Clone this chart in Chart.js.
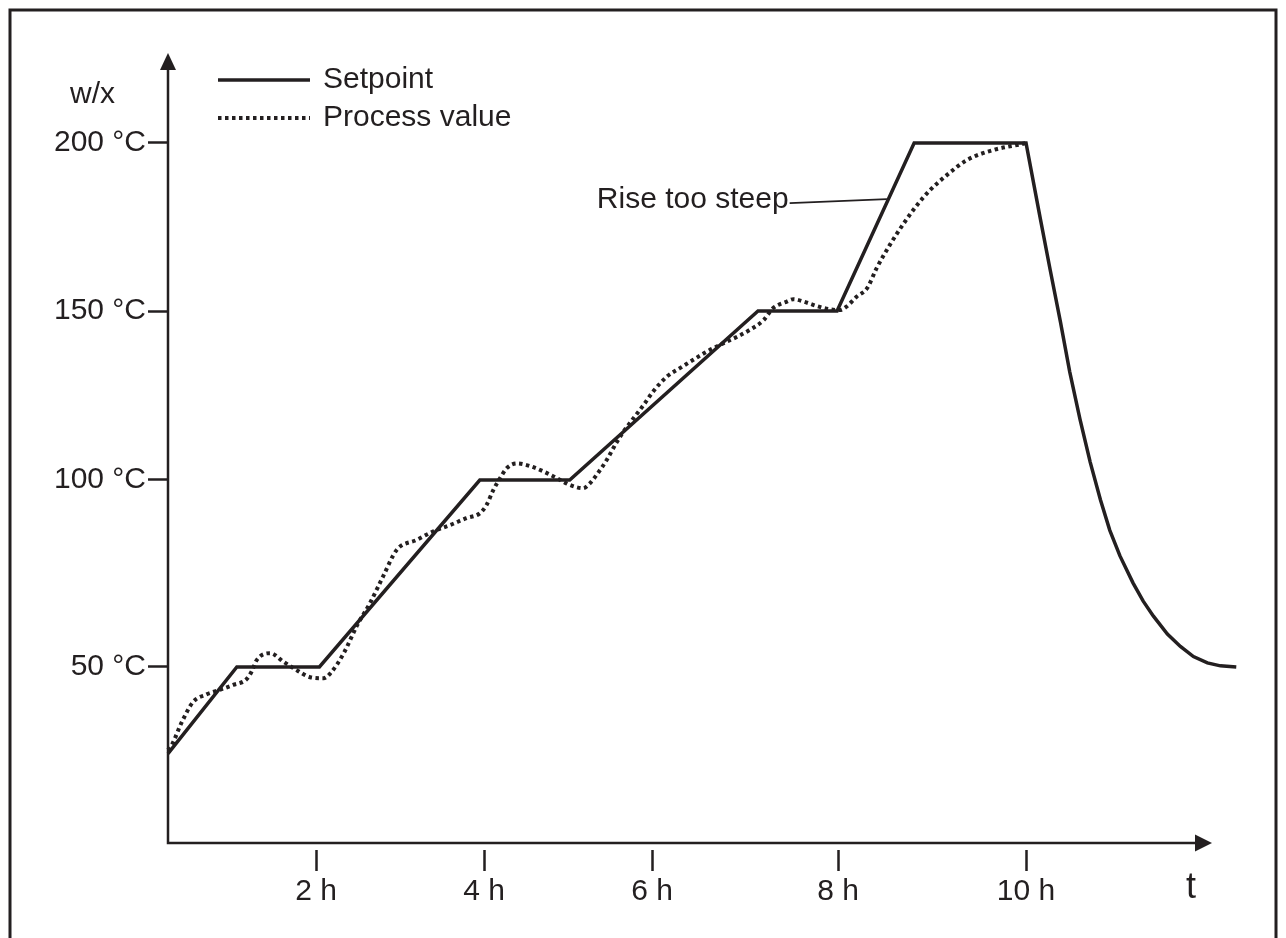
<!DOCTYPE html>
<html>
<head>
<meta charset="utf-8">
<title>Setpoint and process value</title>
<script src="https://cdn.jsdelivr.net/npm/chart.js@4.4.1/dist/chart.umd.min.js"></script>
<style>
  html, body { margin: 0; padding: 0; background: #fff; overflow: hidden; }
  #wrap { position: relative; width: 1286px; height: 938px; }
</style>
</head>
<body>
<div id="wrap"><canvas id="rampChart"></canvas></div>
<script>
// time in hours, temperature in °C
const setpointHours = [0, 0.93, 2.04, 3.95, 5.02, 7.14, 7.99, 8.81, 10, 10.15, 10.26, 10.37, 10.47, 10.58, 10.69, 10.8, 10.9, 11.01, 11.15, 11.26, 11.37, 11.52, 11.66, 11.8, 11.95, 12.09, 12.26];
const setpointTemps = [25.4, 50, 50, 100, 100, 150, 150, 200, 200, 178, 162.2, 146.8, 132, 118, 105.3, 94.7, 86.6, 79.7, 72.5, 67.6, 63.6, 58.8, 55.5, 52.8, 51.1, 50.3, 50];

const processHours = [0, 0.05, 0.19, 0.34, 0.52, 0.7, 0.88, 1.06, 1.13, 1.2, 1.38, 1.56, 1.74, 1.92, 2.09, 2.17, 2.33, 2.49, 2.64, 2.8, 2.96, 3.2, 3.39, 3.6, 3.79, 3.95, 4.03, 4.11, 4.19, 4.27, 4.39, 4.55, 4.71, 4.87, 5.02, 5.18, 5.26, 5.34, 5.46, 5.58, 5.66, 5.78, 5.9, 6.01, 6.16, 6.3, 6.44, 6.59, 6.77, 6.91, 7.05, 7.2, 7.3, 7.45, 7.52, 7.63, 7.77, 7.91, 8.02, 8.09, 8.2, 8.31, 8.41, 8.55, 8.7, 8.84, 8.98, 9.16, 9.37, 9.65, 9.94, 10];
const processTemps = [26.4, 27.8, 34.5, 40.1, 42.2, 43.5, 44.9, 46.5, 48.7, 51.9, 53.7, 51.4, 49.1, 47.1, 46.8, 48.2, 53.7, 61.2, 67, 74.3, 81.3, 84, 86.2, 88, 89.8, 91.1, 93.3, 97.3, 100.5, 103.5, 104.9, 104.1, 102.5, 100.5, 98.7, 97.8, 99.1, 101.5, 105.9, 111.2, 114.3, 118.3, 122.2, 126.1, 130.6, 133.1, 135.5, 138, 140.5, 142.3, 144.4, 147.3, 150.8, 152.8, 153.5, 152.8, 151.5, 150.5, 150.3, 151.3, 154.3, 156.8, 162.7, 169.6, 176.1, 181.5, 186, 190.5, 194.9, 197.9, 199.6, 200];

const seriesNames = ['Setpoint', 'Process value'];
const xTickValues = [2, 4, 6, 8, 10];
const xTickLabels = ['2 h', '4 h', '6 h', '8 h', '10 h'];
const yTickValues = [50, 100, 150, 200];
const yTickLabels = ['50 °C', '100 °C', '150 °C', '200 °C'];

const ink = '#231f20';
const fontFamily = "'Liberation Sans', Arial, Helvetica, sans-serif";
const fontSize = 30;

// the sketch is hand drawn and its ticks are not evenly spaced,
// so each axis maps a value to a fraction of its length piece by piece
const axisWarp = {
    x: { v: [0, 2, 4, 6, 8, 10, 12, 12.3], d: [0, 0.1381, 0.2948, 0.4515, 0.625, 0.8004, 0.9739, 1] },
    y: { v: [0, 50, 100, 150, 200, 225], d: [0, 0.2228, 0.4595, 0.6734, 0.8861, 1] }
};

function interp(val, from, to) {
    let i = 1;
    while (i < from.length - 1 && val > from[i]) i++;
    const t = (val - from[i - 1]) / (from[i] - from[i - 1]);
    return to[i - 1] + t * (to[i] - to[i - 1]);
}

class WarpedScale extends Chart.LinearScale {
    getPixelForValue(value) {
        if (value === null || isNaN(value)) return NaN;
        const w = axisWarp[this.id];
        return this.getPixelForDecimal(interp(value, w.v, w.d));
    }
    getValueForPixel(pixel) {
        const w = axisWarp[this.id];
        return interp(this.getDecimalForPixel(pixel), w.d, w.v);
    }
}
WarpedScale.id = 'warped';
WarpedScale.defaults = Chart.LinearScale.defaults;
Chart.register(WarpedScale);

// frame, arrowed axes, legend and the callout
const sketchPlugin = {
    id: 'sketch',
    beforeDraw(chart) {
        const ctx = chart.ctx;
        ctx.save();
        ctx.strokeStyle = ink;
        ctx.lineWidth = 3;
        ctx.strokeRect(10, 10, chart.width - 20, chart.height + 40);
        ctx.restore();
    },
    beforeDatasetsDraw(chart) {
        const ctx = chart.ctx;
        const { left, bottom, top } = chart.chartArea;
        const xEnd = chart.scales.x.getPixelForValue(12);
        ctx.save();
        ctx.strokeStyle = ink;
        ctx.fillStyle = ink;
        ctx.lineWidth = 2.5;
        ctx.beginPath();
        ctx.moveTo(left, top + 16);
        ctx.lineTo(left, bottom);
        ctx.lineTo(xEnd - 16, bottom);
        ctx.stroke();
        ctx.beginPath();
        ctx.moveTo(left, top);
        ctx.lineTo(left - 8, top + 17);
        ctx.lineTo(left + 8, top + 17);
        ctx.closePath();
        ctx.fill();
        ctx.beginPath();
        ctx.moveTo(xEnd, bottom);
        ctx.lineTo(xEnd - 17, bottom - 8.5);
        ctx.lineTo(xEnd - 17, bottom + 8.5);
        ctx.closePath();
        ctx.fill();
        ctx.restore();
    },
    afterDatasetsDraw(chart, args, opts) {
        const ctx = chart.ctx;
        const xs = chart.scales.x, ys = chart.scales.y;
        ctx.save();
        ctx.fillStyle = ink;
        ctx.strokeStyle = ink;
        ctx.font = fontSize + 'px ' + fontFamily;
        ctx.textBaseline = 'middle';

        // legend
        chart.data.datasets.forEach((ds, i) => {
            const y = opts.legend.rows[i];
            ctx.lineWidth = ds.borderWidth;
            ctx.setLineDash(ds.borderDash || []);
            ctx.beginPath();
            ctx.moveTo(opts.legend.x1, y);
            ctx.lineTo(opts.legend.x2, y);
            ctx.stroke();
            ctx.setLineDash([]);
            ctx.textAlign = 'left';
            ctx.fillText(ds.label, opts.legend.textX, y);
        });

        // axis titles
        ctx.textAlign = 'left';
        ctx.fillText(opts.yTitle.text, opts.yTitle.x, opts.yTitle.y);
        ctx.font = '36px ' + fontFamily;
        ctx.textAlign = 'center';
        ctx.textBaseline = 'alphabetic';
        ctx.fillText(opts.xTitle.text, opts.xTitle.x, opts.xTitle.y);

        // callout
        const a = opts.callout;
        const x1 = xs.getPixelForValue(a.from[0]), y1 = ys.getPixelForValue(a.from[1]);
        const x2 = xs.getPixelForValue(a.to[0]), y2 = ys.getPixelForValue(a.to[1]);
        ctx.lineWidth = 1.6;
        ctx.beginPath();
        ctx.moveTo(x1, y1);
        ctx.lineTo(x2, y2);
        ctx.stroke();
        ctx.font = fontSize + 'px ' + fontFamily;
        ctx.textAlign = 'right';
        ctx.textBaseline = 'middle';
        ctx.fillText(a.text, x1 - 1, y1 - 3);
        ctx.restore();
    }
};

const rampCtx = document.getElementById('rampChart').getContext('2d');
new Chart(rampCtx, {
    type: 'line',
    data: {
        datasets: [
            {
                label: seriesNames[0],
                data: setpointHours.map((h, i) => ({ x: h, y: setpointTemps[i] })),
                borderColor: ink,
                borderWidth: 3.5,
                tension: 0,
                pointRadius: 0,
                clip: false
            },
            {
                label: seriesNames[1],
                data: processHours.map((h, i) => ({ x: h, y: processTemps[i] })),
                borderColor: ink,
                borderWidth: 4,
                borderDash: [3.5, 3.5],
                cubicInterpolationMode: 'monotone',
                pointRadius: 0,
                clip: false
            }
        ]
    },
    options: {
        responsive: true,
        maintainAspectRatio: false,
        animation: false,
        events: [],
        layout: {
            padding: { top: 53, right: 46, bottom: 0, left: 0 }
        },
        scales: {
            x: {
                type: 'warped',
                min: 0,
                max: 12.3,
                afterFit: scale => { scale.height = 95; },
                afterBuildTicks: scale => { scale.ticks = xTickValues.map(v => ({ value: v })); },
                border: { display: false },
                grid: {
                    drawOnChartArea: false,
                    tickLength: 28,
                    tickWidth: 2.5,
                    tickColor: ink,
                    tickBorderDash: [0, 7, 21, 60]
                },
                ticks: {
                    color: ink,
                    font: { family: fontFamily, size: fontSize },
                    padding: 3,
                    maxRotation: 0,
                    autoSkip: false,
                    callback: (value, index) => xTickLabels[index]
                }
            },
            y: {
                type: 'warped',
                min: 0,
                max: 225,
                afterFit: scale => { scale.width = 168; },
                afterBuildTicks: scale => { scale.ticks = yTickValues.map(v => ({ value: v })); },
                border: { display: false },
                grid: {
                    drawOnChartArea: false,
                    tickLength: 20,
                    tickWidth: 2.5,
                    tickColor: ink
                },
                ticks: {
                    color: ink,
                    font: { family: fontFamily, size: fontSize },
                    padding: 2,
                    autoSkip: false,
                    callback: (value, index) => yTickLabels[index]
                }
            }
        },
        plugins: {
            legend: { display: false },
            tooltip: { enabled: false },
            sketch: {
                legend: { x1: 218, x2: 310, textX: 323, rows: [80, 118] },
                yTitle: { text: 'w/x', x: 70, y: 95 },
                xTitle: { text: 't', x: 1191, y: 898 },
                callout: { text: 'Rise too steep', from: [7.48, 182.1], to: [8.52, 183.3] }
            }
        }
    },
    plugins: [sketchPlugin]
});
</script>
</body>
</html>
